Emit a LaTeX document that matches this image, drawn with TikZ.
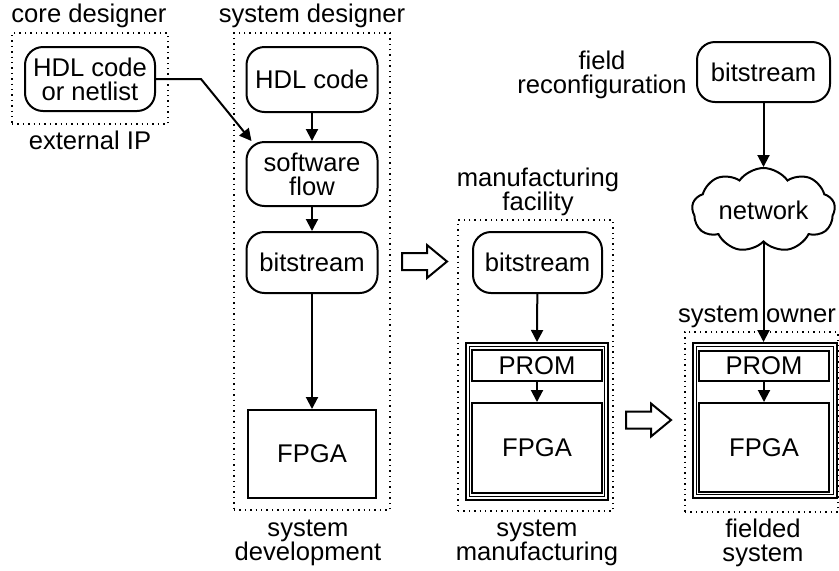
\documentclass[tikz,border=0pt]{standalone}
\usepackage{fontspec}
\setmainfont{Liberation Sans}
\usetikzlibrary{arrows.meta,shapes.symbols}

\tikzset{
  block/.style={draw, line width=1pt, rounded corners=9pt, align=center, inner sep=0pt},
  chipbox/.style={draw, line width=1pt, inner sep=0pt},
  rim/.style={draw, line width=0.6pt, inner sep=0pt},
  area/.style={draw, dotted, line width=0.7pt, inner sep=0pt},
  flow/.style={line width=1pt, -{Triangle[length=6pt,width=6pt]}},
  hollow/.style={line width=1pt, line join=miter, fill=white},
  caption/.style={align=center, inner sep=0pt}
}

\begin{document}
\begin{tikzpicture}[x=0.5pt, y=-0.5pt, font=\fontsize{12.8}{12}\selectfont]
\useasboundingbox (0,0) rectangle (839,570);

  \foreach \n/\x/\y/\w/\h in {corearea/90/78.5/78/45.5, devarea/312/271.5/78/238.5,
      mfgarea/535.5/365.5/77.5/145.5, ownarea/761.5/422/76.5/90}
    \node[area, minimum width=\w pt, minimum height=\h pt] (\n) at (\x,\y) {};

  \node[block, minimum width=65pt, minimum height=32pt] (ipsrc) at (90,79) {HDL code\\or netlist};
  \node[block, minimum width=65.5pt, minimum height=32.5pt] (hdl) at (312,79.5) {HDL code};
  \node[block, minimum width=65.5pt, minimum height=32pt] (swflow) at (312,174) {software\\flow};
  \node[block, minimum width=65.5pt, minimum height=30.5pt] (bitdev) at (312,262.5) {bitstream};
  \node[chipbox, minimum width=64pt, minimum height=44pt] (fpgadev) at (312,454) {FPGA};

  \node[block, minimum width=64.5pt, minimum height=30.5pt] (bitmfg) at (537.5,262.5) {bitstream};
  \node[chipbox, minimum width=71pt, minimum height=78.5pt] (boardmfg) at (537,421.5) {};
  \node[rim, minimum width=67.5pt, minimum height=75pt] (rimmfg) at (537,421.5) {};
  \node[chipbox, minimum width=65pt, minimum height=15.5pt] (prommfg) at (537,365.5) {PROM};
  \node[chipbox, minimum width=65pt, minimum height=45pt] (fpgamfg) at (537,448) {FPGA};

  \node[block, minimum width=66.5pt, minimum height=30pt] (bitfield) at (763.5,72) {bitstream};
  \node[cloud, draw, line width=1pt, cloud puffs=9, cloud puff arc=110, cloud ignores aspect,
        minimum width=71.5pt, minimum height=42pt, inner sep=0pt] (net) at (763.5,210) {network};
  \node[chipbox, minimum width=72pt, minimum height=77.5pt] (boardown) at (765,420.5) {};
  \node[rim, minimum width=68.5pt, minimum height=74pt] (rimown) at (765,420.5) {};
  \node[chipbox, minimum width=65pt, minimum height=15pt] (promown) at (764,366) {PROM};
  \node[chipbox, minimum width=65pt, minimum height=44.5pt] (fpgaown) at (764,447.5) {FPGA};

  \node[caption] (coretitle) at (89,16) {core designer};
  \node[caption] (iptitle) at (90,140) {external IP};
  \node[caption] (systitle) at (312,16) {system designer};
  \node[caption] (devtitle) at (308,543) {system\\development};
  \node[caption] (factitle) at (538,192) {manufacturing\\facility};
  \node[caption] (mfgtitle) at (537,543) {system\\manufacturing};
  \node[caption] (fieldtitle) at (602,75) {field\\reconfiguration};
  \node[caption] (ownertitle) at (757,317) {system owner};
  \node[caption] (fieldedtitle) at (763,543) {fielded\\system};

  \draw[flow] (ipsrc.east) -- ++(45,0) -- ([xshift=3pt]swflow.north west);
  \draw[flow] (hdl) -- (swflow);
  \draw[flow] (swflow) -- (bitdev);
  \draw[flow] (bitdev) -- (fpgadev);
  \draw[flow] (bitmfg) -- (boardmfg.north);
  \draw[flow] (prommfg) -- (fpgamfg);
  \draw[flow] (bitfield) -- (net);
  \draw[flow] (net.south) -- (net.south |- boardown.north);
  \draw[flow] (promown) -- (fpgaown);

  \foreach \x/\y in {402/261.5, 626/420}
    \draw[hollow, shift={(\x,\y)}] (0,-8.5) -- (25,-8.5) -- (25,-16.5) -- (45,0)
      -- (25,16.5) -- (25,8.5) -- (0,8.5) -- cycle;
\end{tikzpicture}
\end{document}
